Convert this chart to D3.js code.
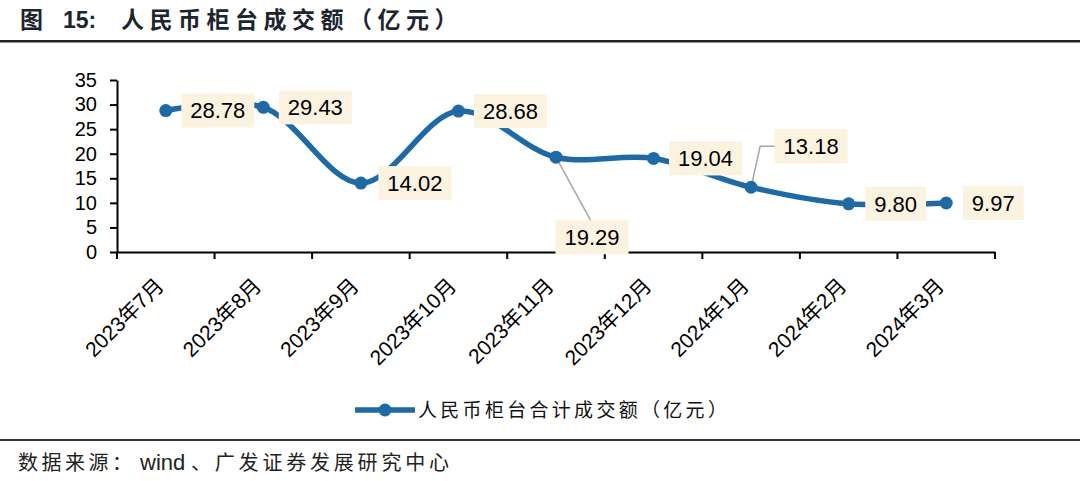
<!DOCTYPE html>
<html>
<head>
<meta charset="utf-8">
<script src="https://cdn.jsdelivr.net/npm/d3@7"></script>
<style>
  body { margin: 0; background: #fff; }
  svg { display: block; }
</style>
</head>
<body>
<svg id="chart"></svg>
<script>
// data
var months = ['2023年7月', '2023年8月', '2023年9月', '2023年10月', '2023年11月',
              '2023年12月', '2024年1月', '2024年2月', '2024年3月']
var volume = [28.78, 29.43, 14.02, 28.68, 19.29, 19.04, 13.18, 9.80, 9.97]
var yTicks = [0, 5, 10, 15, 20, 25, 30, 35]

// where each value label sits relative to its point (layout, not data)
var labelDx = [52, 52, 54, 52, 36, 52, 60, 47, 47]
var labelDy = [0, 0, 0, 0, 80, 0, -41, 0, 0]

var W = 1080, H = 481
var blue = '#1f6aa5', cream = '#fbf3e0'
var cjk = '"Noto Sans CJK SC", sans-serif'
var latin = '"Liberation Sans", Arial, sans-serif'
var svg = d3.select('#chart').attr('width', W).attr('height', H)

var x = d3.scaleBand().domain(months).range([117, 995]).padding(0)
var y = d3.scaleLinear().domain([0, 35]).range([252, 80])
var cx = function(d, i){ return x(months[i]) + x.bandwidth()/2 }

// title + rules
svg.append('text').attr('x', 20).attr('y', 28)
    .attr('font-family', cjk).attr('font-weight', 'bold')
    .attr('font-size', 23).attr('fill', '#1a2530')
    .text('图')
svg.append('text').attr('x', 63).attr('y', 28)
    .attr('font-family', latin).attr('font-weight', 'bold')
    .attr('font-size', 23).attr('fill', '#1a2530')
    .text('15:')
svg.append('text').attr('x', 121).attr('y', 28)
    .attr('font-family', cjk).attr('font-weight', 'bold')
    .attr('font-size', 23).attr('letter-spacing', 5.5).attr('fill', '#1a2530')
    .text('人民币柜台成交额（亿元）')
svg.append('rect').attr('x', 0).attr('y', 40).attr('width', W).attr('height', 2.5).attr('fill', '#222')
svg.append('rect').attr('x', 0).attr('y', 439).attr('width', W).attr('height', 2).attr('fill', '#333')

// axes
var yAxis = svg.append('g').attr('transform', 'translate(117,0)')
    .call(d3.axisLeft(y).tickValues(yTicks).tickSize(7).tickSizeOuter(0).tickPadding(13))
var xAxis = svg.append('g').attr('transform', 'translate(0,252)')
    .call(d3.axisBottom(x).tickSize(0).tickFormat(''))
xAxis.selectAll('.xt').data(months.concat(['end'])).enter().append('line')
    .attr('x1', function(d, i){ return 117 + i*x.bandwidth() })
    .attr('x2', function(d, i){ return 117 + i*x.bandwidth() })
    .attr('y1', 0).attr('y2', 7)
    .attr('stroke', '#000').attr('stroke-width', 2)
;[yAxis, xAxis].forEach(function(a){
    a.select('.domain').attr('stroke', '#000').attr('stroke-width', 2)
    a.selectAll('.tick line').attr('stroke', '#000').attr('stroke-width', 2)
})
yAxis.selectAll('.tick text').attr('font-family', latin)
    .attr('font-size', 20).attr('fill', '#000')

svg.append('g').selectAll('text').data(months).enter().append('text')
    .attr('transform', function(d){ return 'translate(' + (x(d) + x.bandwidth()/2 - 6) + ',282) rotate(-45)' })
    .attr('text-anchor', 'end')
    .attr('dy', '0.35em')
    .attr('font-family', latin + ', "Noto Sans CJK SC"')
    .attr('font-size', 21).attr('fill', '#000')
    .text(function(d){ return d })

// line
var line = d3.line()
    .x(cx)
    .y(function(d){ return y(d) })
    .curve(d3.curveCatmullRom.alpha(0.5))
svg.append('path').datum(volume)
    .attr('d', line).attr('fill', 'none')
    .attr('stroke', blue).attr('stroke-width', 5.5)

// leader lines for the moved labels
svg.append('path')
    .attr('d', 'M' + cx(0, 4) + ',' + y(volume[4]) + 'L' + (cx(0, 4) + 35) + ',' + (y(volume[4]) + 64))
    .attr('fill', 'none').attr('stroke', '#a6a6a6').attr('stroke-width', 1.5)
svg.append('path')
    .attr('d', 'M' + cx(0, 6) + ',' + y(volume[6]) + 'L' + (cx(0, 6) + 9) + ',' + (y(volume[6]) - 41) + 'L' + (cx(0, 6) + 24) + ',' + (y(volume[6]) - 41))
    .attr('fill', 'none').attr('stroke', '#a6a6a6').attr('stroke-width', 1.5)

svg.append('g').selectAll('circle').data(volume).enter().append('circle')
    .attr('cx', cx).attr('cy', function(d){ return y(d) })
    .attr('r', 6.5).attr('fill', blue)

// value labels
var lab = svg.append('g').selectAll('g').data(volume).enter().append('g')
    .attr('transform', function(d, i){ return 'translate(' + (cx(d, i) + labelDx[i]) + ',' + (y(d) + labelDy[i]) + ')' })
lab.append('text')
    .attr('text-anchor', 'middle').attr('dy', '0.36em')
    .attr('font-family', latin)
    .attr('font-size', 22).attr('fill', '#000')
    .text(function(d){ return d.toFixed(2) })
lab.each(function(){
    var g = d3.select(this), b = g.select('text').node().getBBox()
    g.insert('rect', 'text')
        .attr('x', b.x - 9).attr('y', -17)
        .attr('width', b.width + 18).attr('height', 34)
        .attr('fill', cream)
})

// legend
var lg = svg.append('g').attr('transform', 'translate(355,410)')
lg.append('line').attr('x1', 0).attr('x2', 60).attr('stroke', blue).attr('stroke-width', 5.5)
lg.append('circle').attr('cx', 30).attr('r', 6.5).attr('fill', blue)
lg.append('text').attr('x', 63).attr('dy', '0.36em')
    .attr('font-family', cjk)
    .attr('font-size', 19).attr('letter-spacing', 3.3).attr('fill', '#111')
    .text('人民币柜台合计成交额（亿元）')

// source
var src = svg.append('text').attr('y', 470).attr('font-size', 20).attr('fill', '#222')
src.append('tspan').attr('x', 18).attr('font-family', cjk).attr('letter-spacing', 3.5).text('数据来源：')
src.append('tspan').attr('x', 140).attr('font-family', latin).attr('font-size', 22).text('wind')
src.append('tspan').attr('x', 191).attr('font-family', cjk).attr('letter-spacing', 3.8).text('、广发证券发展研究中心')
</script>
</body>
</html>
